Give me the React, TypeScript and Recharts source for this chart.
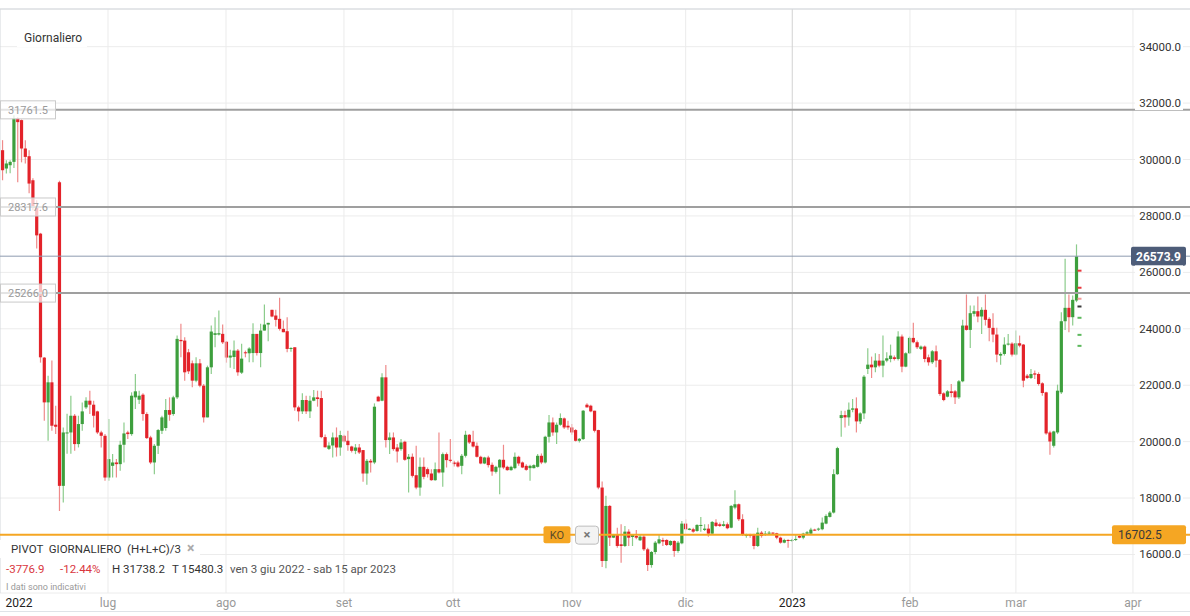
import React from 'react';
import { ComposedChart, Bar, XAxis, YAxis, CartesianGrid, ReferenceLine, Scatter } from 'recharts';

const opens = [30331,29681,29798,29917,31457,31397,30391,30118,29265,28306,27372,22978,21391,22102,20600,29194,18432,20300,20325,20918,19913,20623,21214,21451,21309,21072,20325,20207,18727,19142,19261,19202,19889,20325,20267,21569,21486,21664,20978,20148,19261,19853,20385,20482,21120,20978,21569,23606,23582,23167,22776,22161,22776,21984,20859,22634,23784,23796,23820,23540,22980,23000,23227,22445,23167,23132,23140,23819,23140,23937,24150,24672,24470,24352,23997,23914,23286,23345,21214,21072,21475,21072,21451,21569,21545,20160,19744,19863,20148,19792,20207,20030,19827,19675,19792,19700,18870,19320,19261,21593,21451,22279,20055,20148,19792,19734,19995,19380,19463,18810,18372,19107,19024,18870,18633,19024,18906,19557,19356,19261,19261,19142,19498,20243,19995,19853,19462,19225,19438,19178,18930,19083,19356,19107,18989,19060,19462,19261,19142,19060,19060,19107,19498,19261,20172,20680,20325,20598,20824,20563,20503,20410,20030,20090,21309,21273,21096,20410,18372,15768,17721,16596,16690,16360,16300,16809,16620,16655,16502,16631,16182,15626,16087,16395,16514,16514,16336,16478,16123,16395,17094,16870,16894,16833,17011,16870,16916,16738,17129,17071,17011,17071,16950,17662,17780,17248,16656,16714,16714,16300,16774,16690,16738,16774,16750,16596,16419,16514,16478,16514,16655,16596,16738,16738,16881,16881,16894,17094,17331,17485,18846,20836,20941,20859,21131,21178,20717,21001,22576,22729,22634,22872,22694,22872,22930,22989,22930,23725,22658,23132,23677,23523,23286,23369,22989,22812,23202,22895,21711,21593,21783,21783,21569,22138,24115,23961,24530,24624,24435,24672,24352,24033,23796,23050,23108,23440,23475,23085,23487,23440,22339,22256,22420,22398,22067,21747,20325,19853,20325,21747,24268,24743,24411,25003];
const highs = [30686,29976,29976,31574,31500,31420,30686,30331,29337,28555,27400,23000,22339,22872,21273,29250,20500,20985,21628,20980,20918,21391,21569,21806,21451,21096,20385,20267,20800,19557,19380,20030,20680,20385,21747,22398,21806,21711,21037,20207,19913,20444,20918,21510,21569,21628,23760,24175,23700,23286,22872,22989,22930,22043,22694,24115,24411,24648,24150,23560,23260,23582,23286,23470,23227,23345,24198,23819,24175,24861,24210,24672,24672,25100,24293,24411,23345,23345,21273,21711,21628,21628,21830,21806,21806,20250,19980,20325,20503,20385,20243,20385,19853,19913,19913,19700,19380,19380,21356,21628,22420,22718,20325,20325,19913,20090,20030,19557,19580,19853,19438,19438,19083,19024,19261,20325,19615,19615,20090,19320,19320,19557,20385,20267,20385,19970,19498,19462,19498,19261,19142,19380,19889,19142,19142,19615,19498,19296,19202,19178,19202,19557,19580,20207,20942,20859,20680,21001,20859,20741,20622,20444,20125,21120,21356,21309,21096,20420,18585,18077,17757,16727,16951,17071,17011,16894,16714,16870,16714,16714,16241,16123,16478,16714,16596,16538,16502,16502,16478,17189,17248,16940,16951,17071,17331,17071,17071,17189,17248,17129,17189,17129,17757,18278,17804,17426,16738,16738,16738,16951,16833,16833,16833,16786,16774,16631,16560,16538,16550,16714,16680,16774,16833,16951,16916,16951,17307,17426,17544,19024,19817,21096,21096,21391,21510,21569,21037,22363,23309,23013,23132,23108,23760,23167,23440,23050,23914,23796,23167,23725,24210,23582,23404,23404,23085,23250,23404,22930,21747,21830,22043,21830,22186,24317,25216,24826,24826,25145,24766,25216,24411,24553,24033,23167,23700,23819,23523,23937,23760,23464,22398,22576,22517,22457,22102,21770,20385,20385,22020,24589,26483,25216,25180,26992];
const lows = [29265,29503,29514,29700,29194,29900,29859,28804,28200,26850,22800,20741,20030,20385,20267,17544,17840,19568,19568,19675,19794,20385,21155,20978,20503,20267,19794,18609,18609,18727,18727,18965,19261,20090,20207,21155,21333,20741,20090,19202,18846,19557,20267,20385,20741,20918,21510,22989,22161,22398,21925,22102,21925,20680,20859,22398,23345,23760,23464,22800,22620,22576,22339,22400,22989,22812,22812,23050,22634,23937,23560,24411,24080,23937,23878,23167,23190,21096,20718,20978,20978,20836,21427,21238,20120,19792,19700,19438,19472,19498,19970,19675,19615,19557,19557,18574,18467,18906,19202,21427,21427,19792,19557,19675,19261,19675,19320,18195,18727,18313,18077,18668,18727,18609,18609,18870,18396,19083,19261,19118,19083,18846,19438,19912,19792,19438,19202,19202,19083,18787,18870,18136,19024,18965,18965,19024,19142,19060,18965,18609,19047,19083,19202,19225,19970,20207,19913,20563,20444,20420,20243,20005,19970,20055,21214,21037,20325,18313,15555,15508,16300,16580,16241,15709,16265,16300,16300,16538,16478,16123,15413,15531,16006,16360,16300,16300,16300,15920,16064,16360,16858,16858,16774,16809,16809,16833,16631,16714,16976,16976,16987,16894,16929,17603,17189,16656,16596,16596,16182,16265,16596,16655,16702,16714,16538,16383,16395,16241,16455,16478,16573,16538,16690,16702,16833,16833,16858,17071,17307,17449,18822,20172,20503,20563,21037,20325,20622,20800,22398,22256,22457,22634,22280,22812,22812,22872,22872,22457,22634,23108,23487,23286,23250,22812,22694,22753,22634,21628,21427,21569,21569,21333,21510,22102,23937,23322,24435,24232,23819,24115,23559,23523,22812,22729,23050,23404,23014,23050,23345,21925,22220,22220,22220,21984,21628,20243,19533,19794,20267,21688,23961,23878,24115,24944];
const closes = [29621,29859,29917,31457,31326,30391,30093,29148,28318,27312,22989,21391,22102,20563,20527,18432,20325,20325,20918,19913,20623,21072,21451,21309,20918,20325,20207,18727,19380,19261,19202,19889,20290,20267,21628,21783,21628,20978,20125,19261,19853,20410,20859,21120,20953,21569,23642,23559,22457,22492,22161,22776,21984,20859,22634,23902,23843,23843,23520,22980,23050,23227,22457,22942,23132,23300,23819,23140,23937,24150,24210,24435,24317,23997,23878,23286,23320,21214,21072,21475,21072,21451,21569,21510,20160,19800,19863,20148,19792,20232,20005,19877,19675,19792,19615,18870,19320,19261,21238,21427,22279,20055,20148,19734,19651,19970,19356,19463,18787,18372,19107,18752,18846,18633,19024,18906,19557,19344,19320,19202,19118,19498,20243,19970,19827,19462,19225,19438,19168,18941,19107,19356,19083,18989,19107,19462,19225,19083,19000,19142,19166,19498,19261,20172,20680,20325,20598,20836,20503,20503,20325,20030,20100,21096,21214,21072,20385,18372,15768,17721,16596,16690,16301,16300,16809,16596,16690,16596,16631,16182,15626,16087,16419,16537,16455,16336,16478,16123,16419,17094,16894,16916,16809,17047,17047,16916,16738,17153,17011,17011,17071,16929,17721,17780,17248,16692,16714,16656,16300,16774,16656,16738,16774,16738,16596,16419,16514,16478,16514,16550,16596,16738,16786,16881,16845,16916,17129,17366,17485,18846,19770,20941,20859,21131,21178,20717,21001,22303,22729,22634,22872,22694,22872,22954,23050,22930,23725,22658,23132,23677,23523,23345,23369,22930,22812,23202,22872,21688,21474,21783,21724,21569,22138,24115,23961,24553,24624,24435,24672,24317,24033,23796,23085,23108,23440,23475,23085,23487,23404,22161,22256,22398,22375,22043,21723,20290,20005,20361,21806,24268,24743,24411,25026,26566];

const yTicks = [16000, 18000, 20000, 22000, 24000, 26000, 28000, 30000, 32000, 34000];
const yDomain = [14634, 35336];
const xDomain = [-0.71, 312.87];
const xTickPos = [4.3, 27.75, 58.84, 89.93, 118.66, 150.0, 179.97, 208.06, 239.08, 267.0, 297.84];
const xTickLabels = ['2022', 'lug', 'ago', 'set', 'ott', 'nov', 'dic', '2023', 'feb', 'mar', 'apr'];
const levelLines = [31761.5, 28317.6, 25266.0];
const lastPrice = 26573.9;
const koLevel = 16702.5;
const pivotLevels = [26060, 25455, 25065, 24790, 24390, 23785, 23395];
const pivotColors = ['#e8383d', '#e8383d', '#f29a9a', '#3a3a3a', '#5cb85c', '#5cb85c', '#5cb85c'];
const pivotIndex = 283.75;

const candles = opens.map((o, i) => ({ i, o, h: highs[i], l: lows[i], c: closes[i], range: [lows[i], highs[i]] }));
const pivotData = pivotLevels.map((v, k) => ({ i: pivotIndex, v, k }));

const FONT = 'Roboto, "Noto Sans", sans-serif';

const Candle = (props: any) => {
  const { x, y, width, height, payload } = props;
  if (x == null || y == null || !payload) return null;
  const top = Math.min(y, y + height);
  const bot = Math.max(y, y + height);
  const { o, h, l, c } = payload;
  const span = h - l;
  const toY = (v: number) => (span > 0 ? top + ((h - v) / span) * (bot - top) : top);
  const cx = x + width / 2;
  const up = c >= o;
  const body = up ? '#3d9f3d' : '#e3232a';
  const wick = up ? '#8ccc8c' : '#ef8a8a';
  const yo = toY(o);
  const yc = toY(c);
  const bt = Math.min(yo, yc);
  const bh = Math.max(1, Math.abs(yo - yc));
  return (
    <g>
      <line x1={cx} x2={cx} y1={top} y2={Math.max(bot, top + 1)} stroke={wick} strokeWidth={1.2} />
      <rect x={cx - 1.6} y={bt} width={3.2} height={bh} fill={body} />
    </g>
  );
};

const PivotMark = (props: any) => {
  const { cx, cy, payload } = props;
  if (cx == null || cy == null) return null;
  return <rect x={cx - 2} y={cy - 1} width={4} height={2} fill={pivotColors[payload.k]} />;
};

const YTick = (props: any) => {
  const { y, payload } = props;
  return (
    <g>
      <rect x={1135} y={y - 7} width={48} height={14} fill="#fff" />
      <text x={1181} y={y} dy={4} textAnchor="end" fontSize={11.5} fill="#333" fontFamily={FONT}>
        {Number(payload.value).toFixed(1)}
      </text>
    </g>
  );
};

const XTick = (props: any) => {
  const { x, index } = props;
  const label = xTickLabels[index];
  const isYear = label === '2022' || label === '2023';
  return (
    <text x={x} y={607} textAnchor="middle" fontSize={12} fill={isYear ? '#222' : '#999'} fontFamily={FONT}>
      {label}
    </text>
  );
};

const leftTag = (text: string) => (props: any) => {
  const vb = props.viewBox || {};
  const y = vb.y;
  return (
    <g>
      <rect x={0.5} y={y - 9} width={55} height={18} fill="#fff" fillOpacity={0.72} stroke="#cacaca" />
      <text x={28} y={y + 4} textAnchor="middle" fontSize={11} fill="#9a9a9a" fontFamily={FONT}>{text}</text>
    </g>
  );
};

const lastTag = (props: any) => {
  const vb = props.viewBox || {};
  const y = vb.y;
  return (
    <g>
      <rect x={1131} y={y - 9.5} width={55} height={19} rx={2} fill="#4d5c78" />
      <text x={1158.5} y={y + 4.5} textAnchor="middle" fontSize={12} fontWeight={700} fill="#fff" fontFamily={FONT}>{lastPrice.toFixed(1)}</text>
    </g>
  );
};

const koTag = (props: any) => {
  const vb = props.viewBox || {};
  const y = vb.y;
  return (
    <g>
      <rect x={543.5} y={y - 8.5} width={27} height={17} rx={2} fill="#f5a623" />
      <text x={557} y={y + 4} textAnchor="middle" fontSize={11} fill="#5a4a2a" fontFamily={FONT}>KO</text>
      <rect x={575.5} y={y - 8.5} width={23} height={18} rx={3} fill="#f3f3f3" stroke="#bdbdbd" />
      <text x={587} y={y + 4.5} textAnchor="middle" fontSize={13} fontWeight={700} fill="#777" fontFamily={FONT}>×</text>
      <rect x={1112} y={y - 9.5} width={74} height={19} rx={2} fill="#f5a623" />
      <text x={1118} y={y + 4.5} textAnchor="start" fontSize={12} fill="#3a3a3a" fontFamily={FONT}>{koLevel.toFixed(1)}</text>
    </g>
  );
};

const txt: React.CSSProperties = { position: 'absolute', fontFamily: FONT, whiteSpace: 'pre', lineHeight: '14px' };

export default function App() {
  return (
    <div style={{ position: 'absolute', left: 0, top: 0, width: 1190, height: 616, background: '#fff', overflow: 'hidden' }}>
      <ComposedChart width={1190} height={616} data={candles} margin={{ top: 9, right: 0, bottom: 0, left: 0 }}>
        <CartesianGrid horizontal vertical={false} stroke="#ececec" />
        <XAxis
          type="number"
          dataKey="i"
          domain={xDomain}
          ticks={xTickPos}
          interval={0}
          allowDataOverflow
          axisLine={false}
          tickLine={false}
          height={23}
          tick={<XTick />}
        />
        <YAxis
          orientation="right"
          mirror
          width={60}
          domain={yDomain}
          ticks={yTicks}
          interval={0}
          allowDataOverflow
          axisLine={false}
          tickLine={false}
          tick={<YTick />}
        />
        {xTickPos.slice(1).map((p, k) => (
          <ReferenceLine key={'m' + k} x={p} stroke={xTickLabels[k + 1] === '2023' ? '#d2d2d2' : '#ebebeb'} strokeWidth={1} />
        ))}
        <ReferenceLine y={yDomain[1]} stroke="#d3d7dc" strokeWidth={1} />
        <ReferenceLine x={xDomain[0]} stroke="#d3d7dc" strokeWidth={1} />
        <Bar dataKey="range" barSize={4} shape={<Candle />} isAnimationActive={false} />
        {levelLines.map((v) => (
          <ReferenceLine key={'l' + v} y={v} stroke="#9f9f9f" strokeWidth={2} label={leftTag(v.toFixed(1))} />
        ))}
        <ReferenceLine y={lastPrice} stroke="#8e9bb0" strokeWidth={1} label={lastTag} />
        <ReferenceLine y={koLevel} stroke="#f5a623" strokeWidth={2} label={koTag} />
        <Scatter data={pivotData} dataKey="v" shape={<PivotMark />} isAnimationActive={false} />
      </ComposedChart>

      <div style={{ ...txt, left: 17, top: 30, width: 70, height: 17, background: '#fff', fontSize: 12, color: '#333', lineHeight: '17px', paddingLeft: 7, boxSizing: 'border-box' }}>Giornaliero</div>

      <div style={{ position: 'absolute', left: 0, top: 540, width: 200, height: 18, background: '#fff' }} />
      <div style={{ ...txt, left: 11, top: 542, fontSize: 11.5, color: '#333' }}>{'PIVOT  GIORNALIERO  (H+L+C)/3'}</div>
      <div style={{ ...txt, left: 187, top: 541, fontSize: 14, color: '#aaa', fontWeight: 700 }}>×</div>

      <div style={{ ...txt, left: 6, top: 562, fontSize: 11.5, color: '#d9363e' }}>-3776.9</div>
      <div style={{ ...txt, left: 60, top: 562, fontSize: 11.5, color: '#d9363e' }}>-12.44%</div>
      <div style={{ ...txt, left: 112, top: 562, fontSize: 11.5, color: '#333' }}>H 31738.2</div>
      <div style={{ ...txt, left: 172, top: 562, fontSize: 11.5, color: '#333' }}>T 15480.3</div>
      <div style={{ ...txt, left: 230, top: 562, fontSize: 11.5, color: '#555' }}>ven 3 giu 2022 - sab 15 apr 2023</div>
      <div style={{ ...txt, left: 6, top: 580, fontSize: 9, color: '#999' }}>I dati sono indicativi</div>

      <div style={{ position: 'absolute', left: 0, top: 611, width: 1190, height: 1, background: '#dfe3e8' }} />
    </div>
  );
}
